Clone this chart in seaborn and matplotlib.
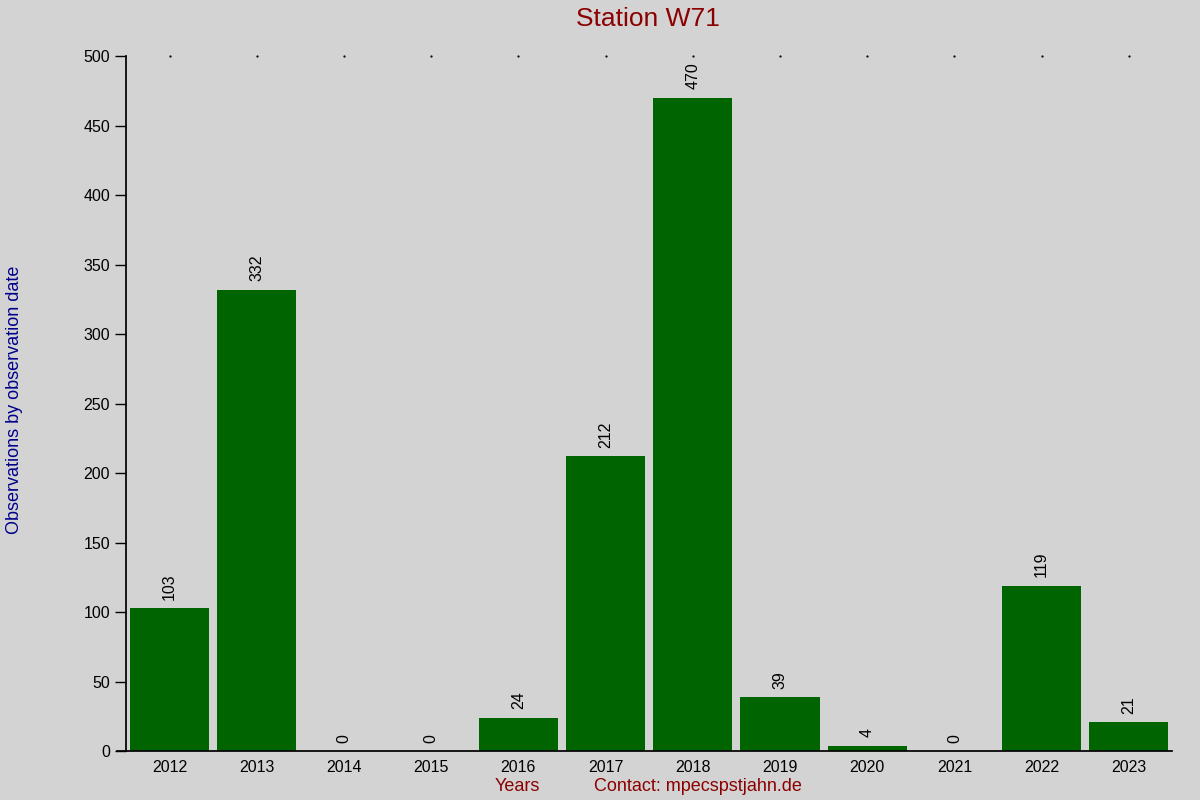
import pandas as pd
import seaborn as sns
from matplotlib import pyplot as plt

years = ["2012", "2013", "2014", "2015", "2016", "2017",
         "2018", "2019", "2020", "2021", "2022", "2023"]
counts = [103, 332, 0, 0, 24, 212, 470, 39, 4, 0, 119, 21]

data = pd.DataFrame({"year": years, "count": counts})

bg = "#d3d3d3"
sns.set_theme(style="ticks", rc={"axes.facecolor": bg, "figure.facecolor": bg,
                                 "xtick.color": "black", "ytick.color": "black",
                                 "text.color": "black"})
plt.rcParams["font.family"] = ["Liberation Sans", "DejaVu Sans"]

fig = plt.figure(figsize=(12, 8), dpi=100)
axis = fig.add_axes([0.105, 0.061, 0.872, 0.869])
sns.barplot(data=data, x="year", y="count", color="#006400", saturation=1,
            width=0.91, linewidth=0, ax=axis)

for p, v in zip(axis.patches, counts):
    axis.annotate(str(v), (p.get_x() + p.get_width() / 2, p.get_height()),
                  xytext=(0, 6), textcoords="offset points", rotation=90,
                  ha="center", va="bottom", fontsize=11.5, color="black")

axis.set_ylim(0, 500)
axis.set_xlim(-0.5, 11.5)
axis.set_yticks(range(0, 501, 50))
axis.tick_params(axis="y", labelsize=11.5, length=8, width=1, color="black",
                 labelcolor="black")
axis.tick_params(axis="x", labelsize=11.5, length=0, pad=6, labelcolor="black")
for s in ["top", "right"]:
    axis.spines[s].set_visible(False)
axis.spines["left"].set_color("black")
axis.spines["bottom"].set_color("black")
axis.spines["bottom"].set_bounds(-0.6, 11.5)

# small dots at top
axis.plot(range(len(years)), [500] * len(years), linestyle="none", marker=".",
          markersize=1.2, color="black", clip_on=False)

axis.set_xlabel("")
axis.set_ylabel("")
fig.text(0.012, 0.5, "Observations by observation date", rotation=90,
         ha="center", va="center", fontsize=13, color="#00008b")
fig.text(0.431, 0.017, "Years", ha="center", va="center", fontsize=13,
         color="#8b0000")
fig.text(0.582, 0.017, "Contact: mpecspstjahn.de", ha="center", va="center",
         fontsize=13, color="#8b0000")
fig.text(0.54, 0.976, "Station W71", ha="center", va="center", fontsize=19,
         color="#8b0000")

plt.savefig("out.png", dpi=100, facecolor=bg)
